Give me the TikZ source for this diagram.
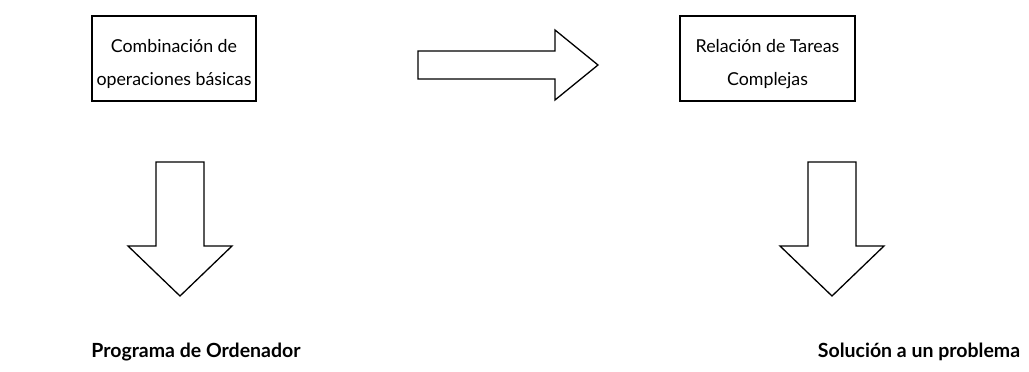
\documentclass[tikz,border=0pt]{standalone}
\usepackage{fontspec}
\setmainfont{Lato}
\begin{document}
\begin{tikzpicture}[x=1pt,y=-1pt,
  box/.style={draw, line width=1.3pt, inner sep=0pt},
  boxtext/.style={inner sep=0pt, align=center, font=\fontsize{17.8}{33}\selectfont},
  fatarrow/.style={draw, line width=1.3pt, line join=miter, fill=white},
  result/.style={font=\fontsize{19.5}{22}\selectfont\bfseries, anchor=base}]
\useasboundingbox (0,0) rectangle (1029,372);
\node[box, minimum width=164pt, minimum height=85pt] (b1) at (174,58.5) {};
\node[boxtext] (t1) at ([yshift=-4pt]b1.center)
  {\strut Combinación de\\\strut operaciones básicas};
\node[box, minimum width=175pt, minimum height=85pt] (b2) at (767.5,58.5) {};
\node[boxtext] (t2) at ([yshift=-4pt]b2.center)
  {\strut Relación de Tareas\\\strut Complejas};
% right block arrow
\draw[fatarrow] (418,51) -- (555,51) -- (555,30) -- (598,65) -- (555,100)
  -- (555,79) -- (418,79) -- cycle;
% left down block arrow
\draw[fatarrow] (156,162) -- (204,162) -- (204,246) -- (232,246) -- (180,296)
  -- (128,246) -- (156,246) -- cycle;
% right down block arrow
\draw[fatarrow] (808,162) -- (856,162) -- (856,246) -- (884,246) -- (832,296)
  -- (780,246) -- (808,246) -- cycle;
\node[result] (r1) at (196,357) {Programa de Ordenador};
\node[result] (r2) at (919,357) {Solución a un problema};
\end{tikzpicture}
\end{document}
